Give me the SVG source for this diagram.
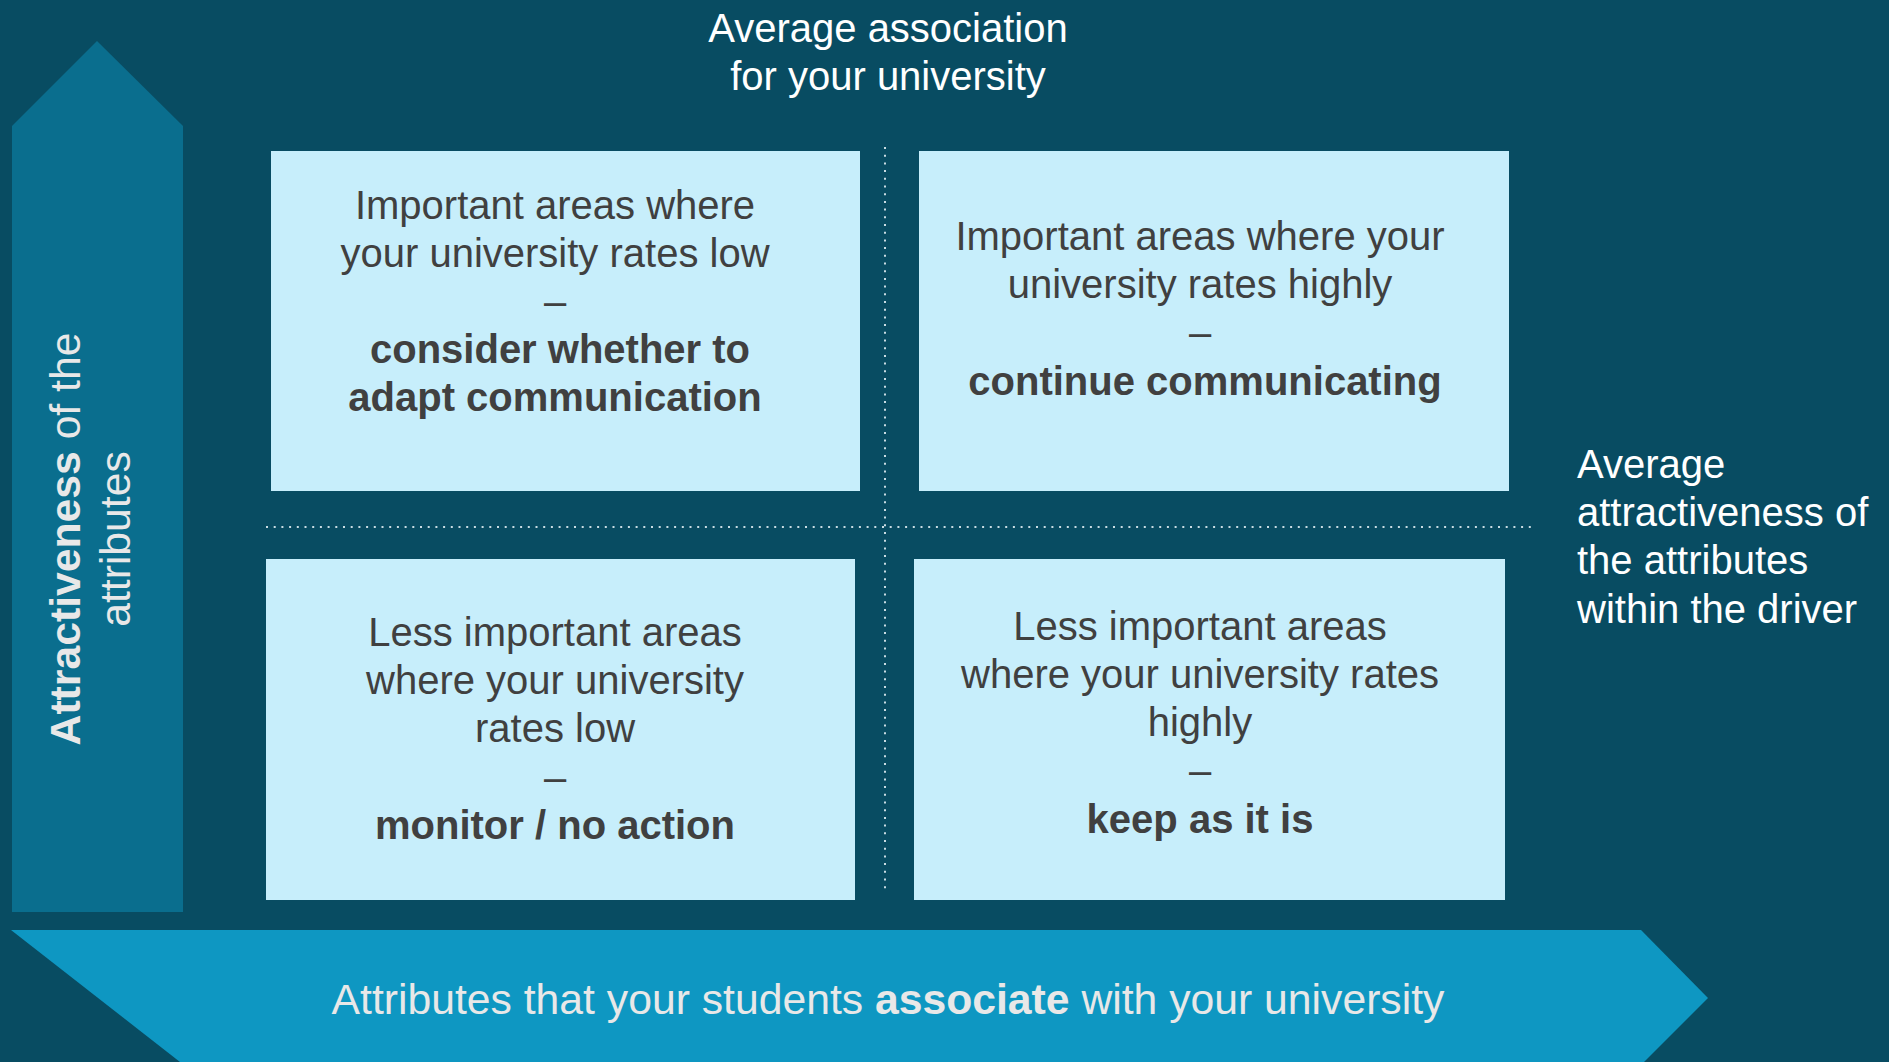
<svg xmlns="http://www.w3.org/2000/svg" width="1889" height="1062" viewBox="0 0 1889 1062">
<defs>
<style>
text{font-family:"Liberation Sans",Arial,sans-serif;font-size:40px}
.box{fill:#C7EEFB}
.bt{fill:#404040;text-anchor:middle}
.b{font-weight:bold}
.w{fill:#FFFFFF}
.lt{fill:#E8E8E8;font-size:42.7px}
.dot{stroke:#C9DCE3;stroke-width:2;stroke-dasharray:2 5.7;fill:none}
</style>
</defs>
<rect x="0" y="0" width="1889" height="1062" fill="#084C62"/>
<g id="axis-y">
<polygon points="12,126 97,41 183,126 183,912 12,912" fill="#0A6E8E"/>
<text class="lt" transform="translate(80,539) rotate(-90)" text-anchor="middle"><tspan class="b">Attractiveness</tspan> of the</text>
<text class="lt" transform="translate(130,539) rotate(-90)" text-anchor="middle">attributes</text>
</g>
<g id="axis-x">
<polygon points="11,930 1641,930 1708,998 1644,1062 180,1062" fill="#0E97C2"/>
<text class="lt" x="888" y="1014" text-anchor="middle">Attributes that your students <tspan class="b">associate</tspan> with your university</text>
</g>
<g id="connectors">
<line class="dot" x1="885" y1="147" x2="885" y2="890"/>
<line class="dot" x1="266" y1="527" x2="1533" y2="527"/>
</g>
<g id="title-top">
<text class="w" x="888" y="42" text-anchor="middle">Average association</text>
<text class="w" x="888" y="90" text-anchor="middle">for your university</text>
</g>
<g id="title-right">
<text class="w" x="1577" y="478">Average</text>
<text class="w" x="1577" y="526">attractiveness of</text>
<text class="w" x="1577" y="574">the attributes</text>
<text class="w" x="1577" y="623">within the driver</text>
</g>
<g id="box-top-left">
<rect class="box" x="271" y="151" width="589" height="340"/>
<text class="bt" x="555" y="219">Important areas where</text>
<text class="bt" x="555" y="267">your university rates low</text>
<text class="bt" x="555" y="315">–</text>
<text class="bt b" x="560" y="363">consider whether to</text>
<text class="bt b" x="555" y="411">adapt communication</text>
</g>
<g id="box-top-right">
<rect class="box" x="919" y="151" width="590" height="340"/>
<text class="bt" x="1200" y="250">Important areas where your</text>
<text class="bt" x="1200" y="298">university rates highly</text>
<text class="bt" x="1200" y="346">–</text>
<text class="bt b" x="1205" y="395">continue communicating</text>
</g>
<g id="box-bottom-left">
<rect class="box" x="266" y="559" width="589" height="341"/>
<text class="bt" x="555" y="646">Less important areas</text>
<text class="bt" x="555" y="694">where your university</text>
<text class="bt" x="555" y="742">rates low</text>
<text class="bt" x="555" y="791">–</text>
<text class="bt b" x="555" y="839">monitor / no action</text>
</g>
<g id="box-bottom-right">
<rect class="box" x="914" y="559" width="591" height="341"/>
<text class="bt" x="1200" y="640">Less important areas</text>
<text class="bt" x="1200" y="688">where your university rates</text>
<text class="bt" x="1200" y="736">highly</text>
<text class="bt" x="1200" y="784">–</text>
<text class="bt b" x="1200" y="833">keep as it is</text>
</g>
</svg>
